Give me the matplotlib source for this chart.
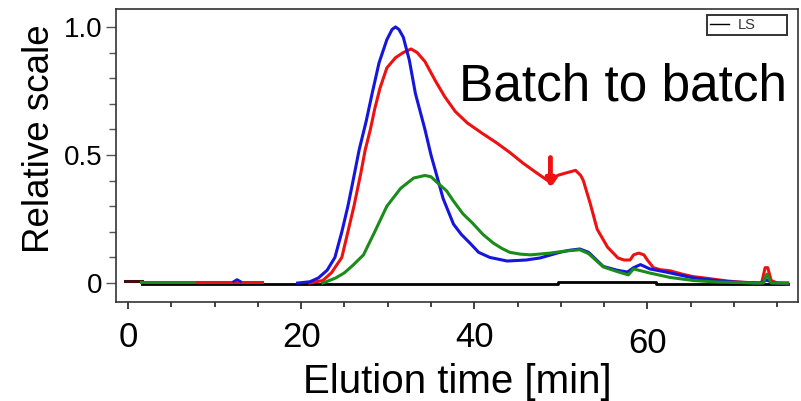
import matplotlib
matplotlib.use("Agg")
import matplotlib.pyplot as plt
from matplotlib.lines import Line2D
from matplotlib.ticker import MultipleLocator

plt.rcParams['font.family'] = ['Liberation Sans', 'DejaVu Sans']

# ---- data ----
blue_x = [19.6, 21.0, 22.0, 23.0, 23.9, 24.7, 25.4, 26.0, 26.7, 27.5, 28.2, 29.0, 29.9, 30.5, 30.9,
          31.3, 31.8, 32.5, 33.2, 34.3, 35.0, 35.5, 36.4, 37.6, 38.5, 39.5, 40.5, 41.8, 43.8, 46.0,
          47.6, 49.9, 51.0, 52.2, 53.2, 54.9, 56.5, 57.7, 58.4, 59.2, 60.3, 62.3, 65.3, 68.0, 70.0,
          73.0, 73.8, 74.5, 76.2]
blue_y = [0.0, 0.005, 0.02, 0.05, 0.10, 0.20, 0.30, 0.40, 0.52, 0.63, 0.74, 0.86, 0.95, 0.99, 1.0,
          0.99, 0.96, 0.87, 0.74, 0.60, 0.50, 0.44, 0.33, 0.23, 0.19, 0.156, 0.12, 0.10, 0.086, 0.09,
          0.098, 0.12, 0.128, 0.133, 0.12, 0.065, 0.05, 0.043, 0.06, 0.072, 0.055, 0.042, 0.02, 0.01, 0.004,
          0.0, 0.012, 0.0, 0.0]

green_x = [22.5, 24.0, 25.0, 26.0, 27.2, 28.5, 29.9, 31.5, 33.0, 34.3, 35.0, 35.8, 36.8, 37.6, 38.7,
           39.8, 41.0, 42.2, 43.2, 44.1, 45.3, 46.5, 48.8, 50.5, 52.2, 53.2, 54.9, 56.5, 57.8, 58.4,
           59.0, 60.3, 62.6, 65.3, 68.0, 72.5, 73.4, 73.8, 74.3, 76.2]
green_y = [0.0, 0.02, 0.04, 0.07, 0.11, 0.20, 0.30, 0.37, 0.41, 0.42, 0.415, 0.39, 0.36, 0.32, 0.27,
           0.234, 0.19, 0.156, 0.135, 0.12, 0.113, 0.11, 0.117, 0.125, 0.13, 0.115, 0.063, 0.045, 0.032, 0.055,
           0.05, 0.039, 0.022, 0.01, 0.004, 0.0, 0.0, 0.035, 0.0, 0.0]

red_x = [21.0, 22.5, 23.5, 24.7, 25.4, 26.1, 26.9, 27.4, 28.0, 28.5, 29.1, 29.9, 30.9, 31.8, 32.7,
         33.4, 34.3, 35.5, 36.6, 37.8, 39.2, 40.9, 42.6, 44.1, 45.6, 47.0, 48.4, 49.0, 49.6, 50.6,
         51.7, 52.3, 52.6, 53.4, 54.2, 55.4, 56.6, 57.3, 58.0, 58.4, 59.0, 59.6, 60.0, 60.7, 61.5,
         62.6, 64.0, 65.3, 67.0, 69.2, 71.0, 73.2, 73.6, 73.9, 74.3, 75.0, 76.2]
red_y = [0.0, 0.01, 0.04, 0.10, 0.20, 0.30, 0.43, 0.52, 0.60, 0.68, 0.76, 0.84, 0.88, 0.90, 0.914,
         0.90, 0.865, 0.79, 0.727, 0.67, 0.625, 0.585, 0.547, 0.51, 0.469, 0.435, 0.402, 0.39, 0.42, 0.43,
         0.44, 0.42, 0.40, 0.31, 0.21, 0.14, 0.098, 0.09, 0.09, 0.11, 0.117, 0.11, 0.09, 0.06, 0.052,
         0.048, 0.035, 0.025, 0.018, 0.008, 0.003, 0.0, 0.06, 0.06, 0.01, 0.0, -0.003]

# early baseline pieces
green0_x = [1.5, 8.0]
green0_y = [0.006, 0.006]
red0_x = [8.0, 15.5]
red0_y = [0.006, 0.006]
blue0_x = [12.2, 12.6, 13.0]
blue0_y = [0.006, 0.014, 0.006]
start_x = [-0.3, 1.6]
start_y = [0.008, 0.008]

black_x = [1.6, 49.7, 49.7, 61.0, 61.0, 76.2]
black_y = [-0.004, -0.004, 0.003, 0.003, -0.002, -0.002]

arrow_x = 48.8
arrow_y_from = 0.49
arrow_y_to = 0.37

xticks = [0, 20, 40, 60]
yticks = [0, 0.5, 1.0]
ytick_labels = ['0', '0.5', '1.0']

# ---- figure ----
fig = plt.figure(figsize=(8.01, 4.01), dpi=100)
ax = fig.add_axes([116/801, 1 - 302/401, 682/801, 293/401])

ax.plot(black_x, black_y, color='black', lw=2.0, zorder=2)
ax.plot(start_x, start_y, color='#401010', lw=2.2, zorder=3)
ax.plot(green0_x, green0_y, color='#1a8c1a', lw=2.2, zorder=3)
ax.plot(red0_x, red0_y, color='#ee1111', lw=2.2, zorder=3)
ax.plot(blue0_x, blue0_y, color='#1515dd', lw=1.8, zorder=3)

ax.plot(green_x, green_y, color='#1a8c1a', lw=2.2, zorder=4)
ax.plot(red_x, red_y, color='#ee1111', lw=2.2, zorder=3)
ax.plot(blue_x, blue_y, color='#1515dd', lw=2.2, zorder=3.5)

ax.annotate('', xy=(arrow_x, arrow_y_to), xytext=(arrow_x, arrow_y_from),
            arrowprops=dict(arrowstyle='-|>', color='#ee1111', lw=3.5, mutation_scale=12,
                            shrinkA=0, shrinkB=0), zorder=5)

ax.set_xlim(-1.39, 77.4)
ax.set_ylim(-0.074, 1.07)

ax.set_xticks(xticks)
ax.set_xticklabels([str(v) for v in xticks])
ax.xaxis.set_minor_locator(MultipleLocator(5))
ax.set_yticks(yticks)
ax.set_yticklabels(ytick_labels)
ax.yaxis.set_minor_locator(MultipleLocator(0.1))

ax.tick_params(axis='x', which='major', labelsize=25, length=5, width=1.3, pad=9, color='#333333')
ax.tick_params(axis='x', which='minor', length=3.5, width=1.3, color='#333333')
ax.tick_params(axis='y', which='major', labelsize=20, length=7, width=1.0, pad=3, color='#555555')
ax.tick_params(axis='y', which='minor', length=5, width=1.0, color='#555555')

# 60 label sits slightly lower in the reference
ax.xaxis.get_major_ticks()[3].set_pad(13)

for s in ax.spines.values():
    s.set_color('#333333')
    s.set_linewidth(1.2)

ax.set_xlabel('Elution time [min]', fontsize=29, labelpad=2)
ax.set_ylabel('Relative scale', fontsize=26.5)
ax.yaxis.set_label_coords(-0.086, 0.556)

ax.text(0.984, 0.689, 'Batch to batch', transform=ax.transAxes, fontsize=37,
        ha='right', va='baseline')

leg = ax.legend(handles=[Line2D([], [], color='black', lw=1.0)], labels=['LS'],
                loc='upper left', bbox_to_anchor=(0.8666, 0.9795, 0.1173, 0.0),
                mode='expand', borderaxespad=0, fancybox=False, frameon=True,
                edgecolor='black', fontsize=10.5, handlelength=1.3, handletextpad=0.6,
                borderpad=0.2)
leg.get_frame().set_linewidth(1.4)
for t in leg.get_texts():
    t.set_color('#333333')

fig.savefig('out.png', dpi=100)
